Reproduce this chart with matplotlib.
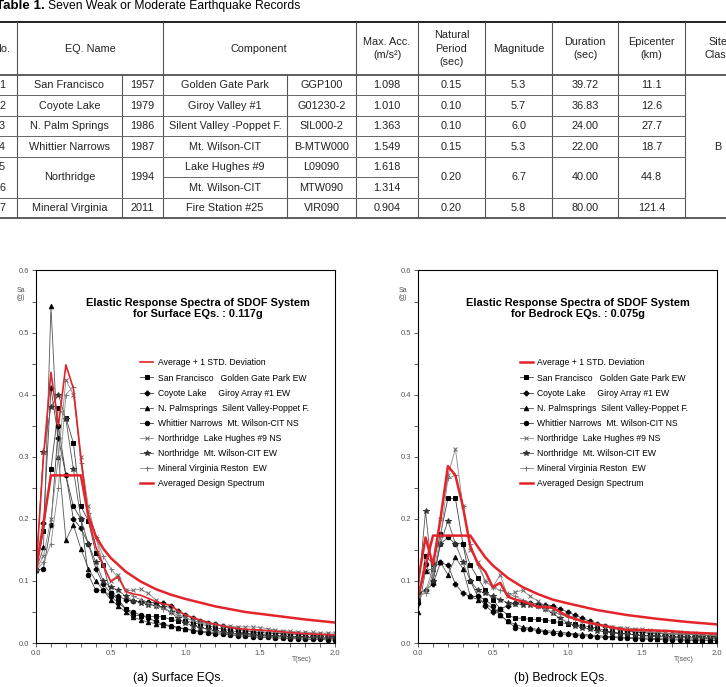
import numpy as np
import matplotlib.pyplot as plt

plt.rcParams['font.family'] = ['Liberation Sans', 'DejaVu Sans']

# ---- Table 1 data ----
nos = ['1', '2', '3', '4', '5', '6', '7']
eq_name = ['San Francisco', 'Coyote Lake', 'N. Palm Springs', 'Whittier Narrows',
           'Northridge', None, 'Mineral Virginia']
eq_year = ['1957', '1979', '1986', '1987', '1994', None, '2011']
station = ['Golden Gate Park', 'Giroy Valley #1', 'Silent Valley -Poppet F.',
           'Mt. Wilson-CIT', 'Lake Hughes #9', 'Mt. Wilson-CIT', 'Fire Station #25']
comp = ['GGP100', 'G01230-2', 'SIL000-2', 'B-MTW000', 'L09090', 'MTW090', 'VIR090']
max_acc = ['1.098', '1.010', '1.363', '1.549', '1.618', '1.314', '0.904']
nat_period = ['0.15', '0.10', '0.10', '0.15', '0.20', None, '0.20']
magnitude = ['5.3', '5.7', '6.0', '5.3', '6.7', None, '5.8']
duration = ['39.72', '36.83', '24.00', '22.00', '40.00', None, '80.00']
epicenter = ['11.1', '12.6', '27.7', '18.7', '44.8', None, '121.4']
site_class = 'B'

# ---- response spectra data ----
T = np.round(np.arange(0, 2.001, 0.05), 2)

rec_labels = ['San Francisco   Golden Gate Park EW',
              'Coyote Lake     Giroy Array #1 EW',
              'N. Palmsprings  Silent Valley-Poppet F.',
              'Whittier Narrows  Mt. Wilson-CIT NS',
              'Northridge  Lake Hughes #9 NS',
              'Northridge  Mt. Wilson-CIT EW',
              'Mineral Virginia Reston  EW']

surf_sf = [0.117, 0.18, 0.28, 0.379, 0.363, 0.322, 0.22, 0.197, 0.145, 0.125, 0.08, 0.07, 0.055,
           0.045, 0.044, 0.043, 0.043, 0.042, 0.038, 0.036, 0.035, 0.033, 0.03, 0.028, 0.025, 0.022,
           0.02, 0.018, 0.016, 0.015, 0.014, 0.013, 0.012, 0.011, 0.010, 0.010, 0.009, 0.009, 0.008,
           0.008, 0.007]
surf_cl = [0.117, 0.193, 0.41, 0.33, 0.27, 0.20, 0.185, 0.16, 0.12, 0.095, 0.08, 0.075, 0.07,
           0.067, 0.067, 0.066, 0.065, 0.064, 0.06, 0.052, 0.045, 0.04, 0.035, 0.032, 0.03, 0.027,
           0.024, 0.022, 0.02, 0.018, 0.017, 0.016, 0.016, 0.015, 0.015, 0.014, 0.014, 0.013, 0.013,
           0.013, 0.012]
surf_ps = [0.117, 0.154, 0.542, 0.30, 0.166, 0.19, 0.152, 0.12, 0.10, 0.085, 0.07, 0.06, 0.05,
           0.042, 0.037, 0.034, 0.031, 0.029, 0.027, 0.025, 0.023, 0.021, 0.019, 0.018, 0.017, 0.016,
           0.015, 0.014, 0.013, 0.012, 0.011, 0.011, 0.010, 0.010, 0.009, 0.009, 0.008, 0.008, 0.008,
           0.007, 0.007]
surf_wn = [0.117, 0.12, 0.19, 0.35, 0.27, 0.22, 0.20, 0.11, 0.085, 0.085, 0.075, 0.065, 0.055,
           0.05, 0.045, 0.04, 0.035, 0.03, 0.028, 0.025, 0.022, 0.020, 0.018, 0.016, 0.015, 0.014,
           0.013, 0.012, 0.011, 0.010, 0.009, 0.009, 0.008, 0.008, 0.007, 0.007, 0.006, 0.006, 0.006,
           0.005, 0.005]
surf_lh = [0.117, 0.14, 0.20, 0.30, 0.424, 0.40, 0.30, 0.22, 0.17, 0.125, 0.10, 0.11, 0.085,
           0.085, 0.087, 0.08, 0.07, 0.062, 0.055, 0.05, 0.045, 0.04, 0.036, 0.033, 0.03, 0.028,
           0.027, 0.026, 0.026, 0.026, 0.025, 0.023, 0.021, 0.02, 0.019, 0.018, 0.017, 0.017, 0.016,
           0.016, 0.016]
surf_mw = [0.117, 0.308, 0.38, 0.40, 0.36, 0.28, 0.20, 0.16, 0.13, 0.10, 0.09, 0.085, 0.075,
           0.068, 0.065, 0.062, 0.06, 0.058, 0.05, 0.04, 0.032, 0.028, 0.025, 0.022, 0.02, 0.018,
           0.016, 0.015, 0.014, 0.013, 0.012, 0.012, 0.011, 0.011, 0.010, 0.010, 0.010, 0.009, 0.009,
           0.009, 0.009]
surf_mv = [0.117, 0.13, 0.16, 0.25, 0.40, 0.413, 0.29, 0.21, 0.17, 0.14, 0.12, 0.105, 0.085,
           0.075, 0.07, 0.065, 0.06, 0.055, 0.05, 0.045, 0.04, 0.036, 0.033, 0.031, 0.03, 0.028,
           0.026, 0.024, 0.022, 0.021, 0.02, 0.019, 0.018, 0.017, 0.016, 0.016, 0.015, 0.015, 0.014,
           0.014, 0.013]

rock_sf = [0.07, 0.14, 0.128, 0.175, 0.233, 0.233, 0.16, 0.125, 0.105, 0.085, 0.07, 0.055, 0.045,
           0.04, 0.04, 0.038, 0.038, 0.037, 0.035, 0.033, 0.031, 0.03, 0.028, 0.026, 0.024, 0.02,
           0.018, 0.016, 0.015, 0.013, 0.012, 0.011, 0.010, 0.010, 0.009, 0.009, 0.008, 0.008, 0.008,
           0.007, 0.007]
rock_cl = [0.08, 0.085, 0.095, 0.13, 0.125, 0.095, 0.08, 0.075, 0.075, 0.06, 0.05, 0.055, 0.06,
           0.065, 0.065, 0.064, 0.063, 0.062, 0.06, 0.055, 0.05, 0.045, 0.04, 0.035, 0.03, 0.027,
           0.024, 0.022, 0.02, 0.018, 0.017, 0.016, 0.016, 0.015, 0.015, 0.014, 0.014, 0.013, 0.013,
           0.012, 0.012]
rock_ps = [0.05, 0.116, 0.12, 0.13, 0.11, 0.138, 0.12, 0.075, 0.07, 0.065, 0.055, 0.045, 0.035,
           0.03, 0.026, 0.024, 0.022, 0.02, 0.019, 0.018, 0.016, 0.015, 0.014, 0.013, 0.012, 0.011,
           0.010, 0.010, 0.009, 0.009, 0.008, 0.008, 0.007, 0.007, 0.007, 0.006, 0.006, 0.006, 0.005,
           0.005, 0.005]
rock_wn = [0.065, 0.128, 0.10, 0.16, 0.17, 0.16, 0.16, 0.10, 0.075, 0.07, 0.06, 0.045, 0.035,
           0.025, 0.023, 0.022, 0.02, 0.018, 0.016, 0.015, 0.014, 0.013, 0.012, 0.011, 0.010, 0.009,
           0.009, 0.008, 0.008, 0.007, 0.007, 0.006, 0.006, 0.005, 0.005, 0.005, 0.004, 0.004, 0.004,
           0.004, 0.004]
rock_lh = [0.075, 0.083, 0.12, 0.20, 0.27, 0.313, 0.22, 0.15, 0.13, 0.10, 0.09, 0.11, 0.075,
           0.082, 0.085, 0.075, 0.068, 0.06, 0.055, 0.05, 0.045, 0.04, 0.036, 0.033, 0.03, 0.028,
           0.026, 0.025, 0.024, 0.023, 0.022, 0.021, 0.020, 0.019, 0.018, 0.017, 0.016, 0.016, 0.015,
           0.015, 0.014]
rock_mw = [0.08, 0.212, 0.10, 0.16, 0.197, 0.16, 0.13, 0.10, 0.085, 0.08, 0.075, 0.07, 0.065,
           0.063, 0.062, 0.062, 0.06, 0.055, 0.048, 0.04, 0.033, 0.028, 0.025, 0.022, 0.02, 0.018,
           0.016, 0.015, 0.014, 0.013, 0.012, 0.012, 0.011, 0.011, 0.010, 0.010, 0.010, 0.009, 0.009,
           0.009, 0.009]
rock_mv = [0.075, 0.08, 0.11, 0.17, 0.265, 0.27, 0.22, 0.16, 0.125, 0.10, 0.09, 0.085, 0.08,
           0.075, 0.07, 0.065, 0.06, 0.055, 0.05, 0.046, 0.042, 0.038, 0.034, 0.031, 0.029, 0.027,
           0.025, 0.023, 0.021, 0.020, 0.019, 0.018, 0.017, 0.016, 0.015, 0.015, 0.014, 0.014, 0.013,
           0.013, 0.012]

avg_T = [0, 0.05, 0.1, 0.15, 0.2, 0.25, 0.3, 0.35, 0.4, 0.45, 0.5, 0.55, 0.6, 0.65, 0.7, 0.75,
         0.8, 0.85, 0.9, 0.95, 1.0, 1.1, 1.2, 1.3, 1.4, 1.5, 1.6, 1.7, 1.8, 1.9, 2.0]
surf_avg = [0.117, 0.30, 0.436, 0.35, 0.448, 0.41, 0.30, 0.20, 0.155, 0.125, 0.099, 0.107, 0.083,
            0.079, 0.077, 0.072, 0.067, 0.063, 0.061, 0.052, 0.045, 0.037, 0.03, 0.025, 0.022,
            0.021, 0.019, 0.017, 0.015, 0.014, 0.013]
rock_avg = [0.099, 0.17, 0.126, 0.20, 0.285, 0.27, 0.22, 0.155, 0.128, 0.115, 0.09, 0.097, 0.075,
            0.07, 0.067, 0.063, 0.058, 0.058, 0.057, 0.05, 0.043, 0.035, 0.03, 0.025, 0.021,
            0.021, 0.020, 0.019, 0.017, 0.016, 0.015]

surf_des_T = [0, 0.1, 0.3, 0.35, 0.4, 0.45, 0.5, 0.6, 0.7, 0.8, 0.9, 1.0, 1.2, 1.4, 1.6, 1.8, 2.0]
surf_des = [0.117, 0.27, 0.27, 0.205, 0.172, 0.152, 0.137, 0.115, 0.099, 0.087, 0.078, 0.071,
            0.059, 0.05, 0.044, 0.038, 0.033]
rock_des_T = [0, 0.1, 0.35, 0.4, 0.45, 0.5, 0.6, 0.7, 0.8, 0.9, 1.0, 1.2, 1.4, 1.6, 1.8, 2.0]
rock_des = [0.075, 0.173, 0.173, 0.155, 0.138, 0.125, 0.105, 0.09, 0.079, 0.07, 0.064, 0.053,
            0.045, 0.039, 0.034, 0.030]

RED = '#e3242b'
rec_markers = ['s', 'P', '^', 'o', 'x', '*', '+']
rec_msize = [3.2, 3.4, 3.2, 3.2, 3.0, 4.2, 3.6]
rec_mcolor = ['black', 'black', 'black', 'black', '#666666', '#333333', '#777777']
rec_lcolor = ['#444444', '#444444', '#555555', '#444444', '#888888', '#555555', '#888888']

fig = plt.figure(figsize=(7.26, 6.87), dpi=100)

# ---- table drawn in pixel coordinates ----
tax = fig.add_axes([0, 0, 1, 1])
tax.set_xlim(0, 726)
tax.set_ylim(687, 0)
tax.axis('off')

fs = 7.8
tax.text(44.5, 6, 'Table 1.', ha='right', va='center', fontsize=9.6, fontweight='bold')
tax.text(47.5, 6, 'Seven Weak or Moderate Earthquake Records', ha='left', va='center', fontsize=8.7)

xe = [-13, 17, 122, 163, 287, 356, 418, 485, 552, 618, 685, 751]
top, hb = 22, 75
rh = 20.47
ye = [hb + rh * i for i in range(8)]
cols = [nos, eq_name, eq_year, station, comp, max_acc, nat_period, magnitude, duration, epicenter]

# outer and header lines
tax.plot([-20, 760], [top, top], color='#222222', lw=1.4)
tax.plot([-20, 760], [hb, hb], color='#333333', lw=1.1)
tax.plot([-20, 760], [ye[-1], ye[-1]], color='#333333', lw=1.1)
for x in xe[1:-1]:
    y0 = hb if x in (122, 287) else top
    tax.plot([x, x], [y0, ye[-1]], color='#555555', lw=0.8)
for i in range(1, 7):
    for j, vals in enumerate(cols):
        ref = eq_name if j == 0 else vals
        if ref[i] is None:
            continue
        tax.plot([xe[j], xe[j + 1]], [ye[i], ye[i]], color='#666666', lw=0.7)

headers = [('No.', 2), ('EQ. Name', 90), ('Component', 259), ('Max. Acc.\n(m/s²)', 387),
           ('Natural\nPeriod\n(sec)', 451.5), ('Magnitude', 518.5), ('Duration\n(sec)', 585),
           ('Epicenter\n(km)', 651.5), ('Site\nClass', 718)]
for txt, xc in headers:
    tax.text(xc, (top + hb) / 2, txt, ha='center', va='center', fontsize=fs, linespacing=1.45,
             color='#222222')

centers = [2, 69.5, 142.5, 225, 321.5, 387, 451.5, 518.5, 585, 651.5]
for xc, vals in zip(centers, cols):
    for i, v in enumerate(vals):
        if v is None:
            continue
        span = 2 if (i + 1 < len(vals) and vals[i + 1] is None) else 1
        tax.text(xc, ye[i] + span * rh / 2, v, ha='center', va='center', fontsize=fs,
                 color='#222222')
tax.text(718, (ye[0] + ye[-1]) / 2, site_class, ha='center', va='center', fontsize=fs,
         color='#222222')


# ---- spectra panels ----
def panel(left, records, avg_v, avg_lw, des_T, des_v, title, lx, ly, tx):
    ax = fig.add_axes([left, 0.0640, 0.4118, 0.5423])
    handles = []
    for vals, m, ms, mc, lc, lab in zip(records, rec_markers, rec_msize, rec_mcolor,
                                        rec_lcolor, rec_labels):
        h, = ax.plot(T, vals, color=lc, lw=0.6, marker=m, ms=ms, mfc=mc, mec=mc, mew=0.7,
                     label=lab)
        handles.append(h)
    ha, = ax.plot(avg_T, avg_v, color=RED, lw=avg_lw, label='Average + 1 STD. Deviation')
    hd, = ax.plot(des_T, des_v, color=RED, lw=1.8, label='Averaged Design Spectrum')
    ax.set_xlim(0, 2.0)
    ax.set_ylim(0, 0.6)
    ax.set_xticks([0, 0.5, 1.0, 1.5, 2.0])
    ax.set_xticklabels(['0.0', '0.5', '1.0', '1.5', '2.0'])
    ax.set_xticks(np.arange(0, 2.01, 0.1), minor=True)
    ax.set_yticks([0, 0.1, 0.2, 0.3, 0.4, 0.5, 0.6])
    ax.set_yticklabels(['0.0', '0.1', '0.2', '0.3', '0.4', '0.5', '0.6'])
    ax.set_yticks(np.arange(0.05, 0.6, 0.1), minor=True)
    ax.tick_params(which='both', direction='out', length=3, width=0.6, color='#444444',
                   labelsize=5.5, labelcolor='#555555', pad=2)
    for s in ax.spines.values():
        s.set_linewidth(0.8)
    ax.text(-0.035, 0.562, 'Sa\n(g)', transform=ax.get_yaxis_transform(),
            ha='right', va='center', fontsize=5, color='#555555', linespacing=1.1)
    ax.text(1.78, -0.027, 'T(sec)', transform=ax.transData, ha='center', va='center',
            fontsize=5, color='#555555')
    ax.text(tx, 0.898, title, transform=ax.transAxes, ha='center', va='center',
            fontsize=7.9, fontweight='bold', linespacing=1.2)
    ax.legend([ha] + handles + [hd], [ha.get_label()] + rec_labels + [hd.get_label()],
              loc='upper left', bbox_to_anchor=(lx, ly), frameon=False, fontsize=6.2,
              handlelength=1.5, handletextpad=0.55, labelspacing=0.71, borderpad=0,
              borderaxespad=0)
    return ax


panel(0.0496, [surf_sf, surf_cl, surf_ps, surf_wn, surf_lh, surf_mw, surf_mv], surf_avg, 1.2,
      surf_des_T, surf_des,
      'Elastic Response Spectra of SDOF System\nfor Surface EQs. : 0.117g', 0.348, 0.764, 0.542)
panel(0.5758, [rock_sf, rock_cl, rock_ps, rock_wn, rock_lh, rock_mw, rock_mv], rock_avg, 1.8,
      rock_des_T, rock_des,
      'Elastic Response Spectra of SDOF System\nfor Bedrock EQs. : 0.075g', 0.340, 0.764, 0.535)

fig.text(178 / 726, 1 - 678 / 687, '(a) Surface EQs.', ha='center', va='center', fontsize=8.7)
fig.text(561 / 726, 1 - 678 / 687, '(b) Bedrock EQs.', ha='center', va='center', fontsize=8.7)

fig.savefig('out.png', dpi=100)
